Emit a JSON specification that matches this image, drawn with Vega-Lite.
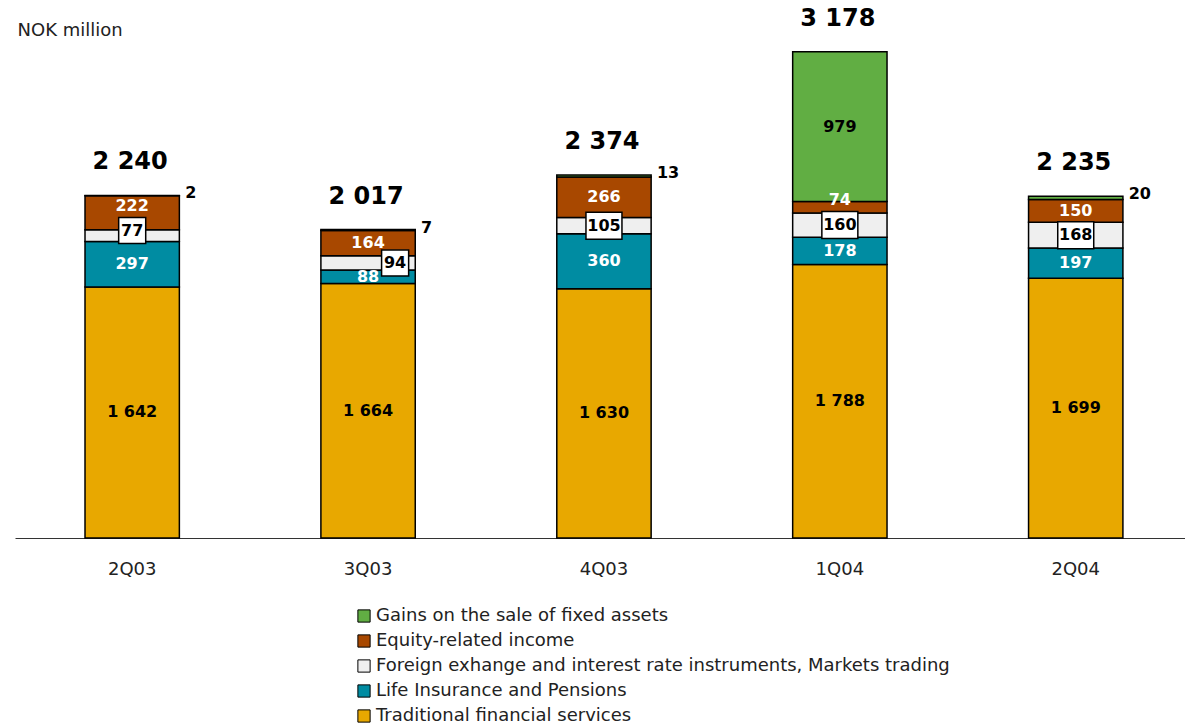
{
  "$schema": "https://vega.github.io/schema/vega-lite/v6.json",
  "autosize": "none",
  "padding": {"left": 15, "top": 52, "right": 0, "bottom": 186},
  "width": 1170,
  "height": 486,
  "config": {
    "font": "DejaVu Sans",
    "view": {"stroke": null},
    "locale": {"number": {"decimal": ",", "thousands": " ", "grouping": [3], "currency": ["", ""]}}
  },
  "datasets": {
    "main": [
      {"quarter": "2Q03", "series": "Traditional financial services", "value": 1642},
      {"quarter": "2Q03", "series": "Life Insurance and Pensions", "value": 297},
      {"quarter": "2Q03", "series": "Foreign exhange and interest rate instruments, Markets trading", "value": 77},
      {"quarter": "2Q03", "series": "Equity-related income", "value": 222},
      {"quarter": "2Q03", "series": "Gains on the sale of fixed assets", "value": 2},
      {"quarter": "3Q03", "series": "Traditional financial services", "value": 1664},
      {"quarter": "3Q03", "series": "Life Insurance and Pensions", "value": 88},
      {"quarter": "3Q03", "series": "Foreign exhange and interest rate instruments, Markets trading", "value": 94},
      {"quarter": "3Q03", "series": "Equity-related income", "value": 164},
      {"quarter": "3Q03", "series": "Gains on the sale of fixed assets", "value": 7},
      {"quarter": "4Q03", "series": "Traditional financial services", "value": 1630},
      {"quarter": "4Q03", "series": "Life Insurance and Pensions", "value": 360},
      {"quarter": "4Q03", "series": "Foreign exhange and interest rate instruments, Markets trading", "value": 105},
      {"quarter": "4Q03", "series": "Equity-related income", "value": 266},
      {"quarter": "4Q03", "series": "Gains on the sale of fixed assets", "value": 13},
      {"quarter": "1Q04", "series": "Traditional financial services", "value": 1788},
      {"quarter": "1Q04", "series": "Life Insurance and Pensions", "value": 178},
      {"quarter": "1Q04", "series": "Foreign exhange and interest rate instruments, Markets trading", "value": 160},
      {"quarter": "1Q04", "series": "Equity-related income", "value": 74},
      {"quarter": "1Q04", "series": "Gains on the sale of fixed assets", "value": 979},
      {"quarter": "2Q04", "series": "Traditional financial services", "value": 1699},
      {"quarter": "2Q04", "series": "Life Insurance and Pensions", "value": 197},
      {"quarter": "2Q04", "series": "Foreign exhange and interest rate instruments, Markets trading", "value": 168},
      {"quarter": "2Q04", "series": "Equity-related income", "value": 150},
      {"quarter": "2Q04", "series": "Gains on the sale of fixed assets", "value": 20}
    ],
    "totals": [
      {"quarter": "2Q03", "total": 2240},
      {"quarter": "3Q03", "total": 2017},
      {"quarter": "4Q03", "total": 2374},
      {"quarter": "1Q04", "total": 3178},
      {"quarter": "2Q04", "total": 2235}
    ]
  },
  "encoding": {
    "x": {
      "field": "quarter", "type": "nominal",
      "sort": ["2Q03", "3Q03", "4Q03", "1Q04", "2Q04"],
      "scale": {"paddingInner": 0.6, "paddingOuter": 0.28, "align": 0.53},
      "axis": {"title": null, "domain": true, "domainColor": "#333333", "domainWidth": 1, "ticks": false, "labelAngle": 0, "labelFontSize": 18, "labelColor": "#222222", "labelPadding": 22, "grid": false}
    }
  },
  "layer": [
    {
      "data": {"name": "main"},
      "transform": [
        {"calculate": "indexof(['Traditional financial services','Life Insurance and Pensions','Foreign exhange and interest rate instruments, Markets trading','Equity-related income','Gains on the sale of fixed assets'], datum.series)", "as": "ord"},
        {"stack": "value", "groupby": ["quarter"], "sort": [{"field": "ord", "order": "ascending"}], "as": ["y0", "y1"]},
        {"calculate": "(datum.y0 + datum.y1) / 2", "as": "ymid"}
      ],
      "layer": [
        {
          "mark": {"type": "bar", "stroke": "black", "strokeWidth": 1.5},
          "encoding": {
            "y": {
              "field": "y1", "type": "quantitative", "scale": {"domain": [0, 3178], "nice": false, "zero": true},
              "axis": {"title": "NOK million", "titleAngle": 0, "titleAlign": "left", "titleBaseline": "middle", "titleX": 2, "titleY": -22, "titleFontSize": 18, "titleFontWeight": "normal", "titleColor": "#222222", "domain": false, "ticks": false, "labels": false, "grid": false}
            },
            "y2": {"field": "y0"},
            "color": {
              "field": "series", "type": "nominal",
              "scale": {
                "domain": ["Gains on the sale of fixed assets", "Equity-related income", "Foreign exhange and interest rate instruments, Markets trading", "Life Insurance and Pensions", "Traditional financial services"],
                "range": ["#61AE43", "#A84800", "#EFEFEF", "#008CA2", "#E8A800"]
              },
              "legend": {
                "orient": "none", "legendX": 340, "legendY": 555, "title": null,
                "symbolType": "square", "symbolSize": 150, "symbolStrokeColor": "black", "symbolStrokeWidth": 1,
                "symbolOpacity": 1,
                "labelFontSize": 18, "labelColor": "#222222", "labelOffset": 3, "rowPadding": 7, "labelLimit": 800
              }
            }
          }
        },
        {
          "transform": [{"filter": "datum.series !== 'Foreign exhange and interest rate instruments, Markets trading' && !(datum.series === 'Gains on the sale of fixed assets' && datum.value < 100) && !((datum.quarter === '1Q04' || datum.quarter === '2Q03') && datum.series === 'Equity-related income')"}],
          "mark": {"type": "text", "fontSize": 16, "fontWeight": "bold", "baseline": "middle", "align": "center"},
          "encoding": {
            "y": {"field": "ymid", "type": "quantitative", "scale": {"domain": [0, 3178], "nice": false}},
            "text": {"field": "value", "type": "quantitative", "format": ",d"},
            "color": {"condition": {"test": "datum.series === 'Equity-related income' || datum.series === 'Life Insurance and Pensions'", "value": "white"}, "value": "black"}
          }
        },
        {
          "transform": [{"filter": "(datum.quarter === '1Q04' || datum.quarter === '2Q03') && datum.series === 'Equity-related income'"}],
          "mark": {"type": "text", "fontSize": 16, "fontWeight": "bold", "baseline": "middle", "align": "center", "dy": -7, "color": "white"},
          "encoding": {
            "y": {"field": "ymid", "type": "quantitative", "scale": {"domain": [0, 3178], "nice": false}},
            "text": {"field": "value", "type": "quantitative", "format": ",d"}
          }
        },
        {
          "transform": [{"filter": "datum.series === 'Foreign exhange and interest rate instruments, Markets trading' && datum.value >= 100"}],
          "mark": {"type": "point", "filled": true, "fill": "white", "stroke": "black", "strokeWidth": 1.5, "opacity": 1, "shape": "M-1.333,-1H1.333V1H-1.333Z", "size": 729},
          "encoding": {
            "y": {"field": "ymid", "type": "quantitative", "scale": {"domain": [0, 3178], "nice": false}}
          }
        },
        {
          "transform": [{"filter": "datum.quarter === '2Q03' && datum.series === 'Foreign exhange and interest rate instruments, Markets trading'"}],
          "mark": {"type": "point", "filled": true, "fill": "white", "stroke": "black", "strokeWidth": 1.5, "opacity": 1, "shape": "M-1.04,-1.4H1.04V0.6H-1.04Z", "size": 676},
          "encoding": {
            "y": {"field": "ymid", "type": "quantitative", "scale": {"domain": [0, 3178], "nice": false}}
          }
        },
        {
          "transform": [{"filter": "datum.quarter === '3Q03' && datum.series === 'Foreign exhange and interest rate instruments, Markets trading'"}],
          "mark": {"type": "point", "filled": true, "fill": "white", "stroke": "black", "strokeWidth": 1.5, "opacity": 1, "shape": "M1.04,-1H3.12V1H1.04Z", "size": 676},
          "encoding": {
            "y": {"field": "ymid", "type": "quantitative", "scale": {"domain": [0, 3178], "nice": false}}
          }
        },
        {
          "transform": [{"filter": "datum.series === 'Foreign exhange and interest rate instruments, Markets trading' && datum.quarter !== '3Q03' && datum.quarter !== '2Q03'"}],
          "mark": {"type": "text", "fontSize": 16, "fontWeight": "bold", "baseline": "middle", "align": "center", "color": "black"},
          "encoding": {
            "y": {"field": "ymid", "type": "quantitative", "scale": {"domain": [0, 3178], "nice": false}},
            "text": {"field": "value", "type": "quantitative", "format": ",d"}
          }
        },
        {
          "transform": [{"filter": "datum.series === 'Foreign exhange and interest rate instruments, Markets trading' && datum.quarter === '2Q03'"}],
          "mark": {"type": "text", "fontSize": 16, "fontWeight": "bold", "baseline": "middle", "align": "center", "color": "black", "dy": -5},
          "encoding": {
            "y": {"field": "ymid", "type": "quantitative", "scale": {"domain": [0, 3178], "nice": false}},
            "text": {"field": "value", "type": "quantitative", "format": ",d"}
          }
        },
        {
          "transform": [{"filter": "datum.series === 'Foreign exhange and interest rate instruments, Markets trading' && datum.quarter === '3Q03'"}],
          "mark": {"type": "text", "fontSize": 16, "fontWeight": "bold", "baseline": "middle", "align": "center", "color": "black", "dx": 27},
          "encoding": {
            "y": {"field": "ymid", "type": "quantitative", "scale": {"domain": [0, 3178], "nice": false}},
            "text": {"field": "value", "type": "quantitative", "format": ",d"}
          }
        },
        {
          "transform": [{"filter": "datum.series === 'Gains on the sale of fixed assets' && datum.value < 100"}],
          "mark": {"type": "text", "fontSize": 16, "fontWeight": "bold", "baseline": "middle", "align": "left", "dx": 53, "dy": -2, "color": "black"},
          "encoding": {
            "y": {"field": "y1", "type": "quantitative", "scale": {"domain": [0, 3178], "nice": false}},
            "text": {"field": "value", "type": "quantitative", "format": ",d"}
          }
        }
      ]
    },
    {
      "data": {"name": "totals"},
      "mark": {"type": "text", "fontSize": 24, "fontWeight": "bold", "baseline": "middle", "align": "center", "dy": -33, "dx": -2, "color": "black"},
      "encoding": {
        "y": {"field": "total", "type": "quantitative", "scale": {"domain": [0, 3178], "nice": false}},
        "text": {"field": "total", "type": "quantitative", "format": ",d"}
      }
    }
  ]
}
